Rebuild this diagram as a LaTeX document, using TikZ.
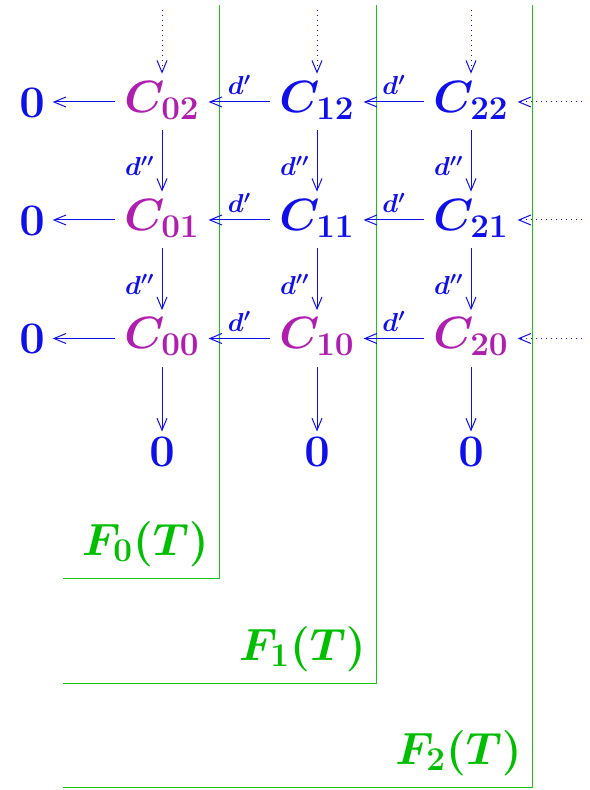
\RequirePackage{fix-cm}
\documentclass[tikz,border=0pt]{standalone}
\usepackage{amsmath}
\usetikzlibrary{arrows.meta}
\DeclareMathSizes{22.6}{22.6}{16.6}{12}
\definecolor{cblue}{RGB}{15,15,235}
\definecolor{cmag}{RGB}{175,30,175}
\definecolor{cgreen}{RGB}{0,190,0}
\tikzset{
  obj/.style={inner xsep=4.5pt, inner ysep=3.5pt, outer sep=0pt, text height=15.8pt, text depth=5.5pt, font=\fontsize{22.6}{27}\selectfont\boldmath},
  bobj/.style={obj, text=cblue},
  mobj/.style={obj, text=cmag},
  zobj/.style={obj, text=cblue, text height=14.5pt, text depth=0pt, inner xsep=4pt, inner ysep=3pt},
  arr/.style={draw=cblue, line width=0.5pt, -{Straight Barb[length=6pt,width=5pt]}},
  darr/.style={arr, dotted},
  lab/.style={font=\fontsize{13}{15}\selectfont\boldmath, text=cblue, inner sep=3.5pt},
  filt/.style={draw=cgreen!90, line width=0.5pt},
  flab/.style={font=\fontsize{22.6}{27}\selectfont\boldmath, text=cgreen, anchor=base east, inner sep=0pt},
}
\begin{document}
\begin{tikzpicture}[x=0.5pt,y=-0.5pt]
\useasboundingbox (0,0) rectangle (589,790);
% filtration boxes
\draw[filt] (219,5) -- (219,578) -- (63,578);
\draw[filt] (376,5) -- (376,683) -- (63,683);
\draw[filt] (532,5) -- (532,787) -- (63,787);
\node[flab] (f0) at (209,555) {$F_0(T)$};
\node[flab] (f1) at (366,660) {$F_1(T)$};
\node[flab] (f2) at (522,764) {$F_2(T)$};
% nodes
\node[mobj] (c02) at (162,102) {$C_{02}$};
\node[mobj] (c01) at (162,220) {$C_{01}$};
\node[mobj] (c00) at (162,338.5) {$C_{00}$};
\node[bobj] (c12) at (317,102) {$C_{12}$};
\node[bobj] (c11) at (317,220) {$C_{11}$};
\node[mobj] (c10) at (317,338.5) {$C_{10}$};
\node[bobj] (c22) at (471,102) {$C_{22}$};
\node[bobj] (c21) at (471,220) {$C_{21}$};
\node[mobj] (c20) at (471,338.5) {$C_{20}$};
\node[zobj] (z2) at (32,103) {$\mathbf{0}$};
\node[zobj] (z1) at (32,221) {$\mathbf{0}$};
\node[zobj] (z0) at (32,339) {$\mathbf{0}$};
\node[zobj] (b0) at (162,452) {$\mathbf{0}$};
\node[zobj] (b1) at (317,452) {$\mathbf{0}$};
\node[zobj] (b2) at (471,452) {$\mathbf{0}$};
\coordinate (t0) at (162,10);
\coordinate (t1) at (317,10);
\coordinate (t2) at (471,10);
\coordinate (r2) at (582,102);
\coordinate (r1) at (582,220);
\coordinate (r0) at (582,338.5);
% horizontal arrows
\foreach \r in {0,1,2}{
  \draw[arr] (c0\r) -- (c0\r.west -| z\r.east);
  \draw[arr] (c1\r) -- node[lab, above] {$d'$} (c0\r);
  \draw[arr] (c2\r) -- node[lab, above] {$d'$} (c1\r);
  \draw[darr] (r\r) -- (c2\r);
}
% vertical arrows
\foreach \c in {0,1,2}{
  \draw[darr] (t\c) -- (c\c2);
  \draw[arr] (c\c2) -- node[lab, left, yshift=-2.5pt] {$d''$} (c\c1);
  \draw[arr] (c\c1) -- node[lab, left, yshift=-2.5pt] {$d''$} (c\c0);
  \draw[arr] (c\c0) -- (b\c);
}
\end{tikzpicture}
\end{document}
